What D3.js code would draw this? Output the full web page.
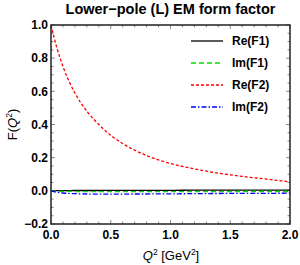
<!DOCTYPE html>
<html>
<head>
<meta charset="utf-8">
<script src="https://cdn.jsdelivr.net/npm/d3@7"></script>
<style>
  body { margin: 0; background: #fff; }
  text { font-family: 'Liberation Sans', Arial, sans-serif; }
</style>
</head>
<body>
<div id="graph"></div>
<script>
// Data
const q2 = [0, 0.05, 0.1, 0.2, 0.3, 0.4, 0.5, 0.6, 0.7, 0.8, 0.9, 1.0, 1.2, 1.4, 1.6, 1.8, 2.0];
const reF1 = [0, 0.001, 0.001, 0.002, 0.002, 0.002, 0.003, 0.003, 0.003, 0.003, 0.003, 0.003, 0.004, 0.004, 0.004, 0.004, 0.004];
const imF1 = [0, -0.002, -0.003, -0.004, -0.005, -0.005, -0.005, -0.005, -0.005, -0.005, -0.005, -0.005, -0.005, -0.005, -0.004, -0.004, -0.004];
const reF2 = [1.0, 0.86, 0.75, 0.59, 0.48, 0.40, 0.335, 0.285, 0.245, 0.212, 0.186, 0.165, 0.132, 0.107, 0.087, 0.071, 0.054];
const imF2 = [0, -0.009, -0.013, -0.017, -0.019, -0.02, -0.02, -0.02, -0.019, -0.019, -0.018, -0.018, -0.017, -0.016, -0.015, -0.015, -0.014];

const seriesNames = ['Re(F1)', 'Im(F1)', 'Re(F2)', 'Im(F2)'];
const seriesValues = [reF1, imF1, reF2, imF2];
const seriesColors = ['#000000', '#00e000', '#ff0000', '#0000ff'];
const seriesDash = [null, '5,3', '3,2', '5,2,1.5,2'];

const xMajor = [0, 0.5, 1.0, 1.5, 2.0];
const yMajor = [-0.2, 0, 0.2, 0.4, 0.6, 0.8, 1.0];

const W = 300, H = 265;
const margin = { top: 25, right: 10, bottom: 41, left: 51 };
const width = W - margin.left - margin.right,
	height = H - margin.top - margin.bottom;

const svg = d3.select('#graph').append('svg')
	.attr('width', W).attr('height', H);
const g = svg.append('g').attr('transform', `translate(${margin.left}, ${margin.top})`);

const x = d3.scaleLinear().domain([0, 2]).range([0, width]);
const y = d3.scaleLinear().domain([-0.2, 1.0]).range([height, 0]);

// Minor ticks
const xMinor = d3.range(0, 2.0001, 0.1).filter(v => !xMajor.some(m => Math.abs(m - v) < 1e-6));
const yMinor = d3.range(-0.2, 1.0001, 0.05).filter(v => !yMajor.some(m => Math.abs(m - v) < 1e-6));

const tickCol = '#888';
function drawTicks(vals, len) {
	vals.forEach(v => {
		g.append('line').attr('x1', x(v)).attr('x2', x(v)).attr('y1', height).attr('y2', height - len).attr('stroke', tickCol);
		g.append('line').attr('x1', x(v)).attr('x2', x(v)).attr('y1', 0).attr('y2', len).attr('stroke', tickCol);
	});
}
function drawYTicks(vals, len) {
	vals.forEach(v => {
		g.append('line').attr('y1', y(v)).attr('y2', y(v)).attr('x1', 0).attr('x2', len).attr('stroke', tickCol);
		g.append('line').attr('y1', y(v)).attr('y2', y(v)).attr('x1', width).attr('x2', width - len).attr('stroke', tickCol);
	});
}
drawTicks(xMajor, 4); drawTicks(xMinor, 2.5);
drawYTicks(yMajor, 4); drawYTicks(yMinor, 2.5);

// Tick labels
g.selectAll('.xl').data(xMajor).join('text')
	.attr('x', d => x(d)).attr('y', height + 15)
	.attr('text-anchor', 'middle').attr('font-size', 12).attr('font-weight', 'bold')
	.text(d3.format('.1f'));
g.selectAll('.yl').data(yMajor).join('text')
	.attr('x', -3).attr('y', d => y(d) + 4.3)
	.attr('text-anchor', 'end').attr('font-size', 12).attr('font-weight', 'bold')
	.text(d => d < 0 ? '\u2212' + d3.format('.1f')(-d) : d3.format('.1f')(d));

// Curves
const line = d3.line().curve(d3.curveMonotoneX)
	.x((d, i) => x(q2[i])).y(d => y(d));
seriesValues.forEach((vals, k) => {
	g.append('path').datum(vals)
		.attr('d', line).attr('fill', 'none')
		.attr('stroke', seriesColors[k]).attr('stroke-width', 1.3)
		.attr('stroke-dasharray', seriesDash[k]);
});

// Frame
g.append('rect').attr('width', width).attr('height', height)
	.attr('fill', 'none').attr('stroke', '#222').attr('stroke-width', 1.5);

// Legend
const legend = svg.append('g');
seriesNames.forEach((name, k) => {
	const ly = 41 + k * 22;
	legend.append('line').attr('x1', 191).attr('x2', 223).attr('y1', ly).attr('y2', ly)
		.attr('stroke', seriesColors[k]).attr('stroke-width', 1.3)
		.attr('stroke-dasharray', seriesDash[k]);
	legend.append('text').attr('x', 232).attr('y', ly + 4.3)
		.attr('font-size', 12).attr('font-weight', 'bold').text(name);
});

// Title
svg.append('text').attr('x', margin.left + width / 2).attr('y', 14)
	.attr('text-anchor', 'middle').attr('font-size', 14.5).attr('font-weight', 'bold')
	.text('Lower\u2212pole (L) EM form factor');

// Axis labels
const xt = svg.append('text').attr('x', 171).attr('y', 260)
	.attr('text-anchor', 'middle').attr('font-size', 13);
xt.append('tspan').attr('font-style', 'italic').text('Q');
xt.append('tspan').attr('dy', -5).attr('font-size', 8.5).text('2');
xt.append('tspan').attr('dy', 5).text(' [GeV');
xt.append('tspan').attr('dy', -5).attr('font-size', 8.5).text('2');
xt.append('tspan').attr('dy', 5).text(']');

const yt = svg.append('text').attr('transform', `translate(17, ${margin.top + height / 2}) rotate(-90)`)
	.attr('text-anchor', 'middle').attr('font-size', 13);
yt.append('tspan').text('F(');
yt.append('tspan').attr('font-style', 'italic').text('Q');
yt.append('tspan').attr('dy', -5).attr('font-size', 8.5).text('2');
yt.append('tspan').attr('dy', 5).text(')');
</script>
</body>
</html>
